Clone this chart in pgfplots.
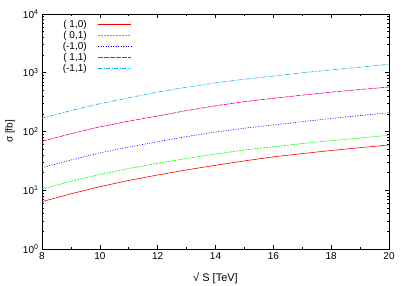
\documentclass[border=0pt]{standalone}
\usepackage{pgfplots}
\pgfplotsset{compat=1.18}
\usepackage{fontspec}
\setmainfont{Liberation Sans}
\begin{document}
\fontsize{10}{12}\selectfont
\begin{tikzpicture}
\path[use as bounding box] (-42pt,-37pt) rectangle (367pt,249pt);
\begin{semilogyaxis}[
  at={(0,0)}, anchor=south west,
  scale only axis, width=347pt, height=235pt,
  xmin=8, xmax=20, ymin=1, ymax=10000,
  xtick={8,10,12,14,16,18,20},
  minor x tick num=1,
  ytick={1,10,100,1000,10000},
  yticklabels={10\textsuperscript{0},10\textsuperscript{1},10\textsuperscript{2},10\textsuperscript{3},10\textsuperscript{4}},
  /pgf/number format/assume math mode=true,
  tick align=inside, tick pos=both,
  major tick length=4pt, minor tick length=2pt,
  axis line style={line width=0.8pt},
  every tick/.style={black, line width=0.6pt},
  tick label style={font=\fontsize{10}{12}\selectfont},
  xlabel={√ S [TeV]}, ylabel={σ [fb]},
  xlabel style={at={(axis description cs:0.5,-0.123)}, anchor=center, font=\fontsize{11}{13}\selectfont},
  ylabel style={at={(axis description cs:-0.092,0.5)}, anchor=center, font=\fontsize{10}{12}\selectfont},
  legend style={at={(axis description cs:0.045,0.995)}, anchor=north west, draw=none, fill=none,
    font=\fontsize{10}{12}\selectfont, row sep=-1.6pt, yshift=-0.5pt},
  legend cell align=right,
  legend plot pos=right,
  legend image code/.code={\path (0pt,0pt); \draw[mark repeat=2,mark phase=2,#1,line width=1pt] plot coordinates {(9pt,0pt) (42pt,0pt)};},
]
\addplot[color=red, line width=0.6pt] coordinates {
(8,6.4)(9,8.7)(10,11.5)(11,14.7)(12,18.2)(13,22.2)(14,26.6)(15,31.6)(16,37)(17,42.1)(18,47.5)(19,53)(20,59)};
\addlegendentry{( 1,0)}
\addplot[color=green, line width=0.6pt, dash pattern=on 2pt off 1pt] coordinates {
(8,10.5)(9,14.2)(10,18.6)(11,23.4)(12,28.8)(13,34.8)(14,41.3)(15,48.4)(16,55)(17,62.3)(18,69.9)(19,77.6)(20,86)};
\addlegendentry{( 0,1)}
\addplot[color=blue, line width=0.6pt, dash pattern=on 1pt off 1.5pt] coordinates {
(8,24.2)(9,32.7)(10,43.2)(11,54.4)(12,67)(13,81.9)(14,98)(15,114)(16,129)(17,147)(18,166.5)(19,187)(20,209)};
\addlegendentry{(-1,0)}
\addplot[color=magenta, line width=0.6pt, dash pattern=on 5pt off 1pt] coordinates {
(8,68)(9,91.8)(10,120)(11,150)(12,184)(13,227)(14,274)(15,322)(16,367)(17,416)(18,467)(19,518)(20,572)};
\addlegendentry{( 1,1)}
\addplot[color=cyan, line width=0.6pt, dash pattern=on 4pt off 1.5pt on 1pt off 1.5pt] coordinates {
(8,168)(9,227)(10,297)(11,374)(12,470)(13,568)(14,674)(15,775)(16,881)(17,998)(18,1120)(19,1244)(20,1393)};
\addlegendentry{(-1,1)}
\end{semilogyaxis}
\end{tikzpicture}
\end{document}
